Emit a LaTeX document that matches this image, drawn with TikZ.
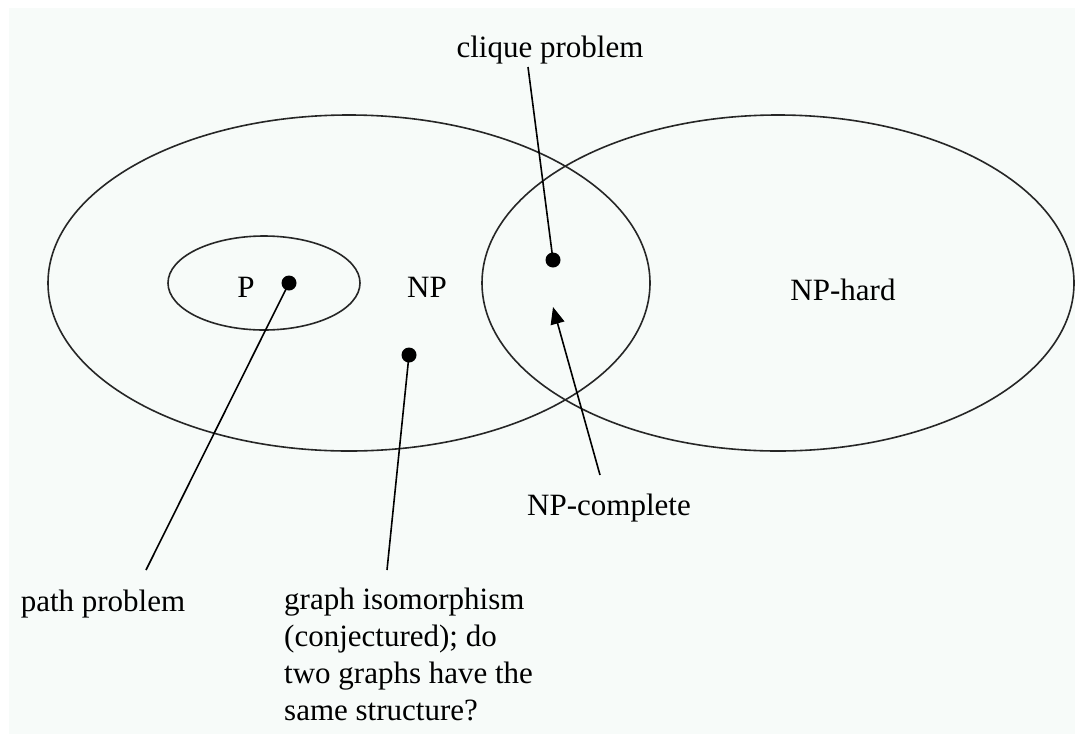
\documentclass[tikz,border=0pt]{standalone}
\usepackage{fontspec}
\setmainfont{Liberation Serif}
\usetikzlibrary{arrows.meta}
\definecolor{bgcol}{HTML}{F7FBF9}
\tikzset{
  setline/.style={line width=1.6pt, draw=black!85},
  conn/.style={line width=1.6pt, draw=black},
  dotnode/.style={circle, fill=black, inner sep=0pt, minimum size=15pt},
  lbl/.style={inner sep=0pt, anchor=base, font=\fontsize{31}{37}\selectfont},
}
\begin{document}
\begin{tikzpicture}[x=1pt,y=-1pt]
\useasboundingbox (0,0) rectangle (1075,734);
\fill[bgcol] (9,8) rectangle (1075,734);
% sets
\draw[setline] (349,283) ellipse [x radius=301, y radius=168];
\draw[setline] (778,283) ellipse [x radius=296, y radius=168];
\draw[setline] (264,283) ellipse [x radius=96, y radius=47];
% labels in sets
\node[lbl] (P) at (246,297) {P};
\node[lbl] (NP) at (427,297) {NP};
\node[lbl] (NPh) at (843,300) {NP-hard};
% dots
\node[dotnode] (dP) at (289,283) {};
\node[dotnode] (dNP) at (409,355) {};
\node[dotnode] (dC) at (553,260) {};
% outside labels
\node[lbl] (clique) at (550,57) {clique problem};
\node[lbl] (npc) at (609,515) {NP-complete};
\node[lbl] (path) at (103,611) {path problem};
\node[lbl, anchor=north west, align=left] (gi) at (284,588) {graph isomorphism\\(conjectured); do\\two graphs have the\\same structure?};
% connector ends
\coordinate (cE) at (528,67);
\coordinate (pE) at (146,570);
\coordinate (gE) at (387,570);
\coordinate (aS) at (600,475);
\coordinate (aT) at (553,307);
\draw[conn] (cE) -- (dC.center);
\draw[conn] (pE) -- (dP.center);
\draw[conn] (gE) -- (dNP.center);
\draw[conn, -{Triangle[length=17pt,width=14pt]}] (aS) -- (aT);
\end{tikzpicture}
\end{document}
